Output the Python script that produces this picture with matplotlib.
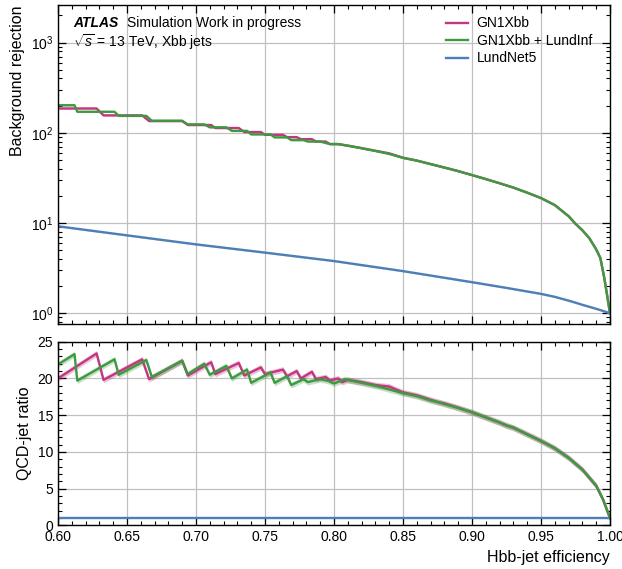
import numpy as np
import matplotlib
matplotlib.use("Agg")
import matplotlib.pyplot as plt
from matplotlib.ticker import MultipleLocator, LogLocator, NullFormatter, FormatStrFormatter

plt.rcParams['font.family'] = ['Liberation Sans', 'DejaVu Sans']
plt.rcParams['mathtext.fontset'] = 'custom'
plt.rcParams['mathtext.rm'] = 'Liberation Sans'
plt.rcParams['mathtext.it'] = 'Liberation Sans:italic'

# ---------------- data ----------------
labels = ["GN1Xbb", "GN1Xbb + LundInf", "LundNet5"]
colors = ["#c2377f", "#3d9a40", "#4d7fb6"]

# LundNet5 background rejection
eff_lund = [0.60, 0.65, 0.70, 0.75, 0.80, 0.85, 0.90, 0.925, 0.95, 0.96, 0.97,
            0.975, 0.98, 0.99, 0.995, 1.00]
rej_lund = [9.2, 7.3, 5.8, 4.7, 3.79, 2.93, 2.21, 1.91, 1.64, 1.52, 1.38,
            1.31, 1.24, 1.12, 1.06, 1.0]

# GN1Xbb background rejection
eff_gn1 = [0.600, 0.628, 0.633, 0.661, 0.666, 0.690, 0.694, 0.711, 0.714, 0.731,
           0.735, 0.747, 0.750, 0.763, 0.766, 0.773, 0.776, 0.784, 0.787, 0.794,
           0.797, 0.803, 0.81, 0.82, 0.83, 0.84, 0.85, 0.86, 0.87, 0.88, 0.89,
           0.90, 0.91, 0.92, 0.93, 0.94, 0.95, 0.96, 0.97, 0.975, 0.98, 0.985,
           0.99, 0.993, 0.996, 1.0]
rej_gn1 = [186, 186, 156, 156, 135, 135, 122, 122, 113, 113,
           102, 102, 95, 95, 89.5, 89.5, 85, 85, 80, 80,
           75, 75, 72, 67.7, 63.2, 59.2, 53, 49.2, 45, 41.2, 37.6,
           34, 30.7, 27.6, 24.7, 21.7, 18.9, 15.8, 11.9, 9.8, 8.3, 6.8,
           5.1, 4.1, 2.4, 1.0]

# GN1Xbb + LundInf background rejection
eff_inf = [0.600, 0.612, 0.614, 0.641, 0.644, 0.664, 0.668, 0.690, 0.694, 0.706,
           0.710, 0.722, 0.726, 0.737, 0.740, 0.754, 0.757, 0.766, 0.769, 0.778,
           0.781, 0.790, 0.797, 0.803, 0.81, 0.82, 0.83, 0.84, 0.85, 0.86, 0.87,
           0.88, 0.89, 0.90, 0.91, 0.92, 0.93, 0.94, 0.95, 0.96, 0.97, 0.975,
           0.98, 0.985, 0.99, 0.993, 0.996, 1.0]
rej_inf = [202, 202, 171, 171, 154, 154, 136, 136, 124, 124,
           115, 115, 105, 105, 96, 96, 89, 89, 83, 83,
           80, 80, 75, 75, 72, 67.3, 62.9, 58.3, 52.7, 49.2, 45,
           41.2, 37.6, 34, 30.7, 27.6, 24.7, 21.7, 18.9, 15.8, 11.9, 9.8,
           8.3, 6.8, 5.1, 4.1, 2.4, 1.0]

# ratio to LundNet5
eff_r_gn1 = [0.600, 0.628, 0.633, 0.661, 0.666, 0.690, 0.694, 0.711, 0.714, 0.731,
             0.735, 0.747, 0.750, 0.763, 0.766, 0.773, 0.776, 0.784, 0.787, 0.794,
             0.797, 0.803, 0.806, 0.81, 0.82, 0.825, 0.83, 0.84, 0.85, 0.86, 0.87,
             0.875, 0.88, 0.89, 0.90, 0.91, 0.92, 0.925, 0.93, 0.94, 0.95, 0.96,
             0.97, 0.98, 0.99, 0.995, 1.0]
ratio_gn1 = [20.0, 23.4, 19.8, 22.6, 19.9, 22.4, 20.4, 22.2, 20.6, 22.1,
             20.4, 21.5, 20.6, 21.2, 20.3, 21.0, 20.0, 20.9, 19.9, 20.2,
             19.7, 20.0, 19.5, 19.8, 19.5, 19.3, 19.1, 18.9, 18.1, 17.7, 17.1,
             16.8, 16.6, 16.0, 15.4, 14.7, 14.0, 13.6, 13.3, 12.4, 11.5, 10.5,
             9.2, 7.6, 5.4, 3.5, 1.0]

eff_r_inf = [0.600, 0.612, 0.614, 0.641, 0.644, 0.664, 0.668, 0.690, 0.694, 0.706,
             0.710, 0.722, 0.726, 0.737, 0.740, 0.754, 0.757, 0.766, 0.769, 0.778,
             0.781, 0.790, 0.797, 0.800, 0.808, 0.81, 0.82, 0.83, 0.84, 0.85, 0.86,
             0.87, 0.875, 0.88, 0.89, 0.90, 0.91, 0.92, 0.925, 0.93, 0.94, 0.95,
             0.96, 0.97, 0.98, 0.99, 0.995, 1.0]
ratio_inf = [21.9, 23.3, 19.7, 22.6, 20.5, 22.5, 20.2, 22.4, 20.6, 22.0,
             20.5, 21.7, 20.0, 21.2, 19.4, 20.8, 19.4, 20.3, 19.1, 19.9,
             19.5, 19.9, 19.6, 19.3, 19.9, 19.8, 19.4, 19.0, 18.5, 18.0, 17.6,
             17.0, 16.8, 16.5, 16.0, 15.4, 14.7, 14.0, 13.6, 13.3, 12.4, 11.5,
             10.5, 9.2, 7.6, 5.4, 3.5, 1.0]

eff_r_lund = [0.60, 1.00]
ratio_lund = [1.0, 1.0]

band_rel = 0.02   # approximate relative width of the statistical bands
band_ratio = 0.4  # approximate half-width of the ratio bands

# ---------------- figure ----------------
fig = plt.figure(figsize=(6.22, 5.69), dpi=100)
ax1 = fig.add_axes([0.0932, 0.4306, 0.8875, 0.5604])
ax2 = fig.add_axes([0.0932, 0.0765, 0.8875, 0.3230])

lw = 1.7
series_top = [(eff_gn1, rej_gn1), (eff_inf, rej_inf), (eff_lund, rej_lund)]
for (x, y), lab, c in zip(series_top, labels, colors):
    x = np.asarray(x); y = np.asarray(y)
    ax1.fill_between(x, y * (1 - band_rel), y * (1 + band_rel), color=c, alpha=0.3, lw=0)
    ax1.plot(x, y, color=c, lw=lw, label=lab)

series_bot = [(eff_r_gn1, ratio_gn1), (eff_r_inf, ratio_inf), (eff_r_lund, ratio_lund)]
for (x, y), c in zip(series_bot, colors):
    x = np.asarray(x); y = np.asarray(y)
    if c != colors[2]:
        ax2.fill_between(x, y - band_ratio, y + band_ratio, color=c, alpha=0.3, lw=0)
    ax2.plot(x, y, color=c, lw=lw)

ax1.set_yscale('log')
ax1.set_ylim(0.76, 2600)
ax1.set_xlim(0.6, 1.0)
ax2.set_xlim(0.6, 1.0)
ax2.set_ylim(0, 25)

for ax in (ax1, ax2):
    ax.xaxis.set_major_locator(MultipleLocator(0.05))
    ax.xaxis.set_minor_locator(MultipleLocator(0.01))
    ax.tick_params(which='both', direction='in', top=True, right=True, labelsize=10)
    ax.tick_params(which='major', length=6, width=0.9)
    ax.tick_params(which='minor', length=3, width=0.8)
    ax.grid(True, which='major', color='#c0c0c0', lw=0.9)
    ax.set_axisbelow(True)
    for s in ax.spines.values():
        s.set_linewidth(1.0)

ax1.yaxis.set_major_locator(LogLocator(base=10, numticks=10))
ax1.yaxis.set_minor_locator(LogLocator(base=10, subs=np.arange(2, 10), numticks=20))
ax1.yaxis.set_minor_formatter(NullFormatter())
ax1.tick_params(labelbottom=False)

ax2.yaxis.set_major_locator(MultipleLocator(5))
ax2.yaxis.set_minor_locator(MultipleLocator(1))
ax2.xaxis.set_major_formatter(FormatStrFormatter('%.2f'))

ax1.set_ylabel("Background rejection", fontsize=11.5, loc='top')
ax2.set_ylabel("QCD-jet ratio", fontsize=11.5)
ax2.set_xlabel("Hbb-jet efficiency", fontsize=11.5, loc='right')
fig.align_ylabels([ax1, ax2])

ax1.text(0.027, 0.966, "ATLAS", transform=ax1.transAxes, fontsize=10,
         fontweight='bold', fontstyle='italic', va='top', ha='left')
ax1.text(0.125, 0.966, "Simulation Work in progress", transform=ax1.transAxes,
         fontsize=10, va='top', ha='left')
ax1.text(0.027, 0.914, r"$\sqrt{s}$ = 13 TeV, Xbb jets", transform=ax1.transAxes,
         fontsize=10, va='top', ha='left')

ax1.legend(loc='upper right', frameon=False, fontsize=10, handlelength=1.6,
           handletextpad=0.6, bbox_to_anchor=(0.985, 0.995), labelspacing=0.25,
           borderaxespad=0.3)

fig.savefig("out.png", dpi=100)
